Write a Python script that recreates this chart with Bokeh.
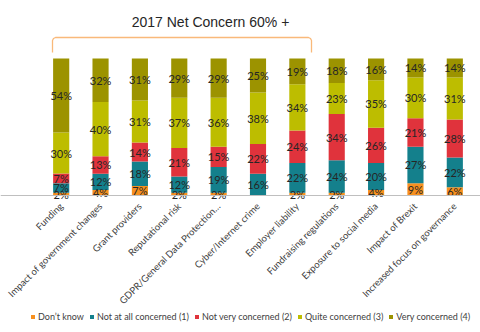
from math import pi
from bokeh.plotting import figure
from bokeh.models import Legend, LegendItem, FixedTicker, Range1d, LinearAxis
from bokeh.core.properties import value
from bokeh.embed import file_html
from bokeh.resources import INLINE

categories = ["Funding", "Impact of government changes", "Grant providers", "Reputational risk",
              "GDPR/General Data Protection…", "Cyber/Internet crime", "Employer liability",
              "Fundraising regulations", "Exposure to social media", "Impact of Brexit",
              "Increased focus on governance"]
dont_know = [2, 4, 7, 2, 2, 0, 2, 2, 4, 9, 6]
not_at_all = [7, 12, 18, 12, 19, 16, 22, 24, 20, 27, 22]
not_very = [7, 13, 14, 21, 15, 22, 24, 34, 26, 21, 28]
quite = [30, 40, 31, 37, 36, 38, 34, 23, 35, 30, 31]
very = [54, 32, 31, 29, 29, 25, 19, 18, 16, 14, 14]
series_names = ["Don’t know", "Not at all concerned (1)", "Not very concerned (2)",
                "Quite concerned (3)", "Very concerned (4)"]
title_text = "2017 Net Concern 60% +"

colors = ["#F7901E", "#14808C", "#E0333C", "#BDBD00", "#9C9300"]
series = [dont_know, not_at_all, not_very, quite, very]

W, H = 480, 332
FL, FR = 41, 474
BASE, TOP100 = 195, 58
n = len(categories)
step = (FR - FL) / n


def dx(px):
    return (px - FL) / step - 0.5


def dy(py):
    return (BASE - py) / (BASE - TOP100) * 100.0


p = figure(width=W, height=H, x_range=Range1d(dx(0), dx(W)), y_range=Range1d(dy(H), dy(0)),
           output_backend="svg", toolbar_location=None,
           x_axis_location=None, y_axis_location=None,
           min_border_left=0, min_border_right=0, min_border_top=0, min_border_bottom=0)
p.outline_line_color = None
p.xgrid.visible = False
p.ygrid.visible = False
p.background_fill_color = "white"
p.border_fill_color = "white"

ax = LinearAxis(fixed_location=0)
ax.ticker = FixedTicker(ticks=list(range(n)))
ax.major_label_overrides = {i: c for i, c in enumerate(categories)}
ax.major_label_orientation = pi / 4
ax.axis_line_color = "#BFBFBF"
ax.axis_line_width = 1.2
ax.major_tick_line_color = None
ax.minor_tick_line_color = None
ax.major_tick_out = 0
ax.major_tick_in = 0
ax.major_label_standoff = 9
ax.major_label_text_font = "Lato"
ax.major_label_text_font_size = "9.5px"
ax.major_label_text_color = "#404040"

totals = [sum(s[i] for s in series) for i in range(n)]
xs = list(range(n))
bottoms = [0.0] * n
renderers = []
lx, ly, lt = [], [], []
for name, s, col in zip(series_names, series, colors):
    shares = [s[i] / totals[i] * 100.0 for i in range(n)]
    tops = [bottoms[i] + shares[i] for i in range(n)]
    r = p.vbar(x=xs, bottom=bottoms, top=tops, width=0.41, fill_color=col, line_color=None)
    renderers.append(r)
    for i in range(n):
        if s[i] > 0:
            lx.append(i)
            ly.append((bottoms[i] + tops[i]) / 2)
            lt.append(f"{s[i]}%")
    bottoms = tops

p.text(x=lx, y=ly, text=lt, text_align="center", text_baseline="middle",
       text_font=value("Lato"), text_font_size="11px", text_color="#262626")

p.add_layout(ax, "below")

# bracket
bpx = [52, 52, 53, 55, 308, 310, 311, 311]
bpy = [52, 40, 38, 37, 37, 38, 40, 52]
p.line(x=[dx(v) for v in bpx], y=[dy(v) for v in bpy], line_color="#F9B97A", line_width=1.3)

p.text(x=[dx(210)], y=[dy(21)], text=[title_text], text_align="center", text_baseline="middle",
       text_font=value("Liberation Sans"), text_font_size="14px", text_color="#262626")

legend = Legend(items=[LegendItem(label=nm, renderers=[r]) for nm, r in zip(series_names, renderers)],
                orientation="horizontal", location=(30, 10),
                glyph_width=5, glyph_height=5, label_standoff=3, spacing=5,
                padding=0, margin=0, border_line_color=None, background_fill_alpha=0,
                label_text_font="Lato", label_text_font_size="9px", label_text_color="#404040",
                label_height=10)
p.add_layout(legend)

open("out.html", "w").write(file_html(p, INLINE))
